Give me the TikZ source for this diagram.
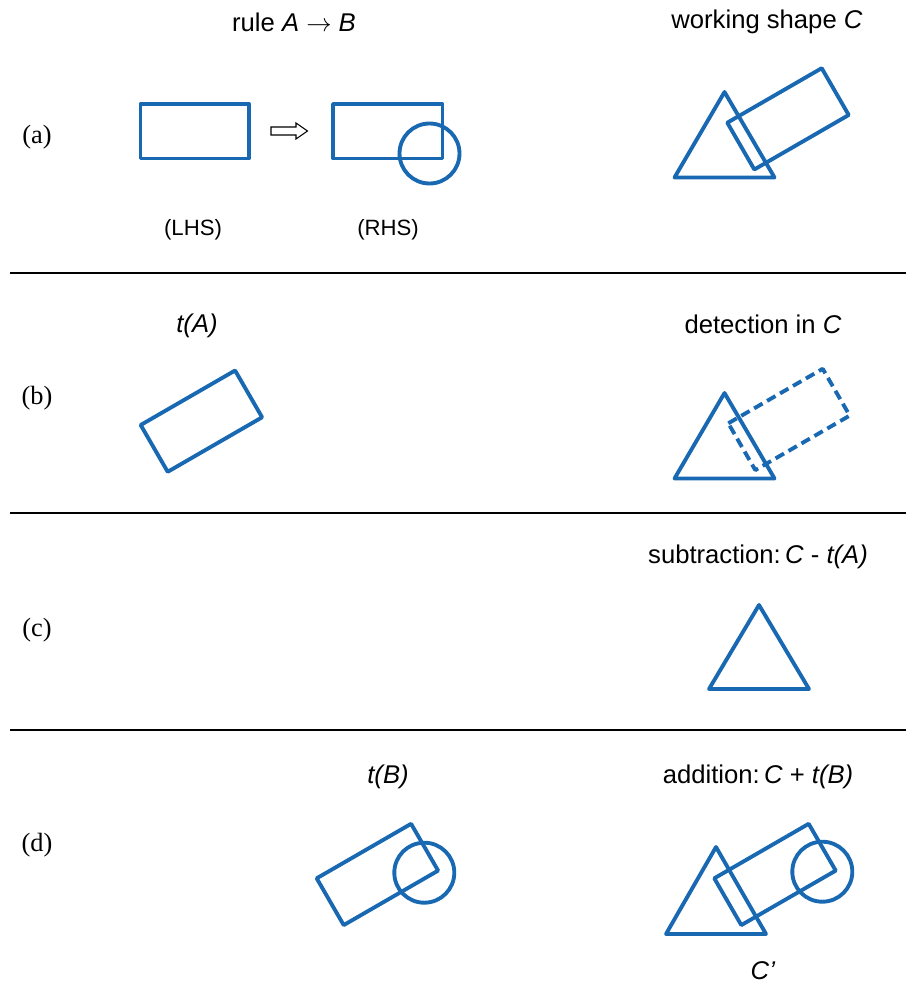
\documentclass[tikz,border=0pt]{standalone}
\usepackage{fontspec}
\setmainfont{Liberation Sans}
\newfontfamily\romfont{Liberation Serif}
\usepackage{tikz}
\definecolor{shapeblue}{RGB}{24,104,178}

\begin{document}
\begin{tikzpicture}[x=0.02cm, y=-0.02cm,
	shp/.style = {draw=shapeblue, line width=2.2pt, line join=round},
	dsh/.style = {shp, dash pattern=on 5.5pt off 3pt},
	ttl/.style = {font=\fontsize{14.6}{17}\selectfont, inner sep=0pt},
	side/.style = {font=\fontsize{12.6}{15}\selectfont, inner sep=0pt},
	part/.style = {font=\romfont\fontsize{15}{18}\selectfont, inner sep=0pt},
	sep/.style = {draw=black, line width=0.7pt}]
	\useasboundingbox (0,0) rectangle (906,986);

	\node[part] (pa) at (37,137) {(a)};
	\node[part] (pb) at (37,398) {(b)};
	\node[part] (pc) at (37,630) {(c)};
	\node[part] (pd) at (37,845) {(d)};

	\node[ttl] (rule) at (294,22) {rule \textit{A} $\rightarrow$ \textit{B}};
	\node[ttl] (work) at (767,22) {working shape \textit{C}};
	\node[side] (lhs) at (193,230) {(LHS)};
	\node[side] (rhs) at (388,230) {(RHS)};
	\node[ttl] (ta) at (197,326) {\textit{t(A)}};
	\node[ttl] (det) at (763,324) {detection in \textit{C}};
	\node[ttl] (sub) at (758,557) {subtraction:\,\textit{C} - \textit{t(A)}};
	\node[ttl] (tb) at (388,777) {\textit{t(B)}};
	\node[ttl] (add) at (758,777) {addition:\,\textit{C} + \textit{t(B)}};
	\node[ttl] (cres) at (763,971) {\textit{C’}};

	\draw[sep] (10,273) -- (906,273);
	\draw[sep] (10,513) -- (906,513);
	\draw[sep] (10,730) -- (906,730);

	\draw[shp] (140.5,104) rectangle (249,158.5);
	\draw[fill=white, line width=0.6pt] (271,127) -- (296,127) -- (296,123) -- (307.5,131)
		-- (296,139) -- (296,135) -- (271,135) -- cycle;
	\draw[shp] (333,104) rectangle (442.5,158.5);
	\draw[shp] (429.5,153.5) circle [radius=30];

	\draw[shp] (724.5,92) -- (774.5,177.5) -- (674.5,177.5) -- cycle;
	\draw[shp] (727.3,122.7) -- ++(94.4,-54.5) -- ++(27,46.8) -- ++(-94.4,54.5) -- cycle;

	\draw[shp] (140.7,425) -- ++(94.4,-54.5) -- ++(27,46.8) -- ++(-94.4,54.5) -- cycle;

	\draw[shp] (724.5,393) -- (774.5,478.5) -- (674.5,478.5) -- cycle;
	\draw[dsh] (728.3,423.3) -- ++(94.4,-54.5) -- ++(27,46.8) -- ++(-94.4,54.5) -- cycle;

	\draw[shp] (759,605) -- (809,689) -- (709,689) -- cycle;

	\draw[shp] (316.7,878.3) -- ++(94.4,-54.5) -- ++(27,46.8) -- ++(-94.4,54.5) -- cycle;
	\draw[shp] (424.3,872.7) circle [radius=30];

	\draw[shp] (716,847) -- (766,934) -- (666,934) -- cycle;
	\draw[shp] (714.3,878.3) -- ++(94.4,-54.5) -- ++(27,46.8) -- ++(-94.4,54.5) -- cycle;
	\draw[shp] (822.3,871.7) circle [radius=30];
\end{tikzpicture}
\end{document}
